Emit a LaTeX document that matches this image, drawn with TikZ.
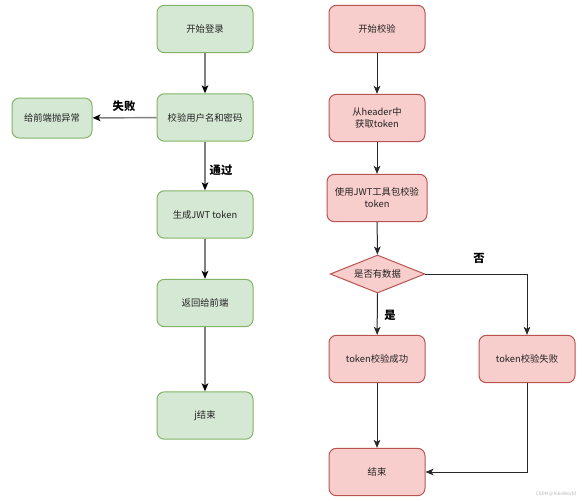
\documentclass[tikz,border=0pt]{standalone}
\usepackage{fontspec}
\setmainfont{Noto Sans CJK SC}
\usetikzlibrary{arrows.meta,shapes.geometric}

\definecolor{gfill}{RGB}{213,232,212}
\definecolor{gline}{RGB}{130,179,102}
\definecolor{rfill}{RGB}{248,206,204}
\definecolor{rline}{RGB}{184,84,80}
\definecolor{txt}{RGB}{34,34,34}

\tikzset{every picture/.style={line width=0.75pt}}
\tikzset{
  greenbox/.style={draw=gline, fill=gfill, rounded corners=5.5pt, minimum width=72pt, minimum height=35.5pt, inner sep=1pt, align=center, font=\fontsize{7}{9}\selectfont, text=txt},
  redbox/.style={draw=rline, fill=rfill, rounded corners=5.5pt, minimum width=72pt, minimum height=35.5pt, inner sep=1pt, align=center, font=\fontsize{7}{9}\selectfont, text=txt},
  decision/.style={draw=rline, fill=rfill, diamond, aspect=2.5, inner sep=0pt, minimum width=71pt, minimum height=28.5pt, font=\fontsize{7}{9}\selectfont, text=txt},
  garrow/.style={draw={rgb,255:red,128;green,128;blue,128}, line width=1.1pt, -{Stealth[length=6pt,width=5pt,inset=1.5pt,color=black]}},
  rarrow/.style={draw={rgb,255:red,40;green,40;blue,40}, line width=0.75pt, -{Stealth[length=6pt,width=5pt,inset=1.5pt]}},
  lbl/.style={inner sep=0.75pt, font=\fontsize{8.5}{10}\selectfont\bfseries, text=black}
}

\begin{document}
\begin{tikzpicture}[x=0.75pt,y=0.75pt,yscale=-1,xscale=1]
\useasboundingbox (0,0) rectangle (584,500);

%Rounded Rect - login flow
\node [greenbox] (login) at (205,29) {开始登录};
\node [greenbox] (check) at (205,117.5) {校验用户名和密码};
\node [greenbox, minimum width=60pt, minimum height=30pt] (throw) at (52,118) {给前端抛异常};
\node [greenbox] (gen) at (205,214.5) {生成JWT token};
\node [greenbox] (back) at (205,303) {返回给前端};
\node [greenbox] (lend) at (205,415.5) {j结束};

%Rounded Rect - token flow
\node [redbox] (vstart) at (377,29) {开始校验};
\node [redbox] (header) at (377,118) {从header中\\获取token};
\node [redbox, minimum width=75pt] (jwt) at (377,198) {使用JWT工具包校验\\token};
\node [decision] (data) at (377.5,274) {是否有数据};
\node [redbox] (ok) at (377,359) {token校验成功};
\node [redbox] (fail) at (527,359) {token校验失败};
\node [redbox] (rend) at (377,472) {结束};

%Straight Lines
\draw [garrow] (login) -- (check);
\draw [garrow] (check) -- (throw);
\draw [garrow] (check) -- (gen);
\draw [garrow] (gen) -- (back);
\draw [garrow] (back) -- (lend);

\draw [rarrow] (vstart) -- (header);
\draw [rarrow] (header) -- (jwt);
\draw [rarrow] (jwt) -- (data);
\draw [rarrow] (data) -- (ok);
\draw [rarrow] (data.east) -| (fail.north);
\draw [rarrow] (ok) -- (rend);
\draw [rarrow] (fail.south) |- (rend.east);

% Text Node
\node [lbl] (fl) at (124,106) {失败};
% Text Node
\node [lbl] (pass) at (221,170) {通过};
% Text Node
\node [lbl] (yes) at (390,315) {是};
% Text Node
\node [lbl] (no) at (479,258) {否};
% Text Node
\node [inner sep=0pt, font=\fontsize{3.5}{4}\selectfont, text={rgb,255:red,180;green,180;blue,180}] (mark) at (556,494) {CSDN @hikoWorld};

\end{tikzpicture}
\end{document}
